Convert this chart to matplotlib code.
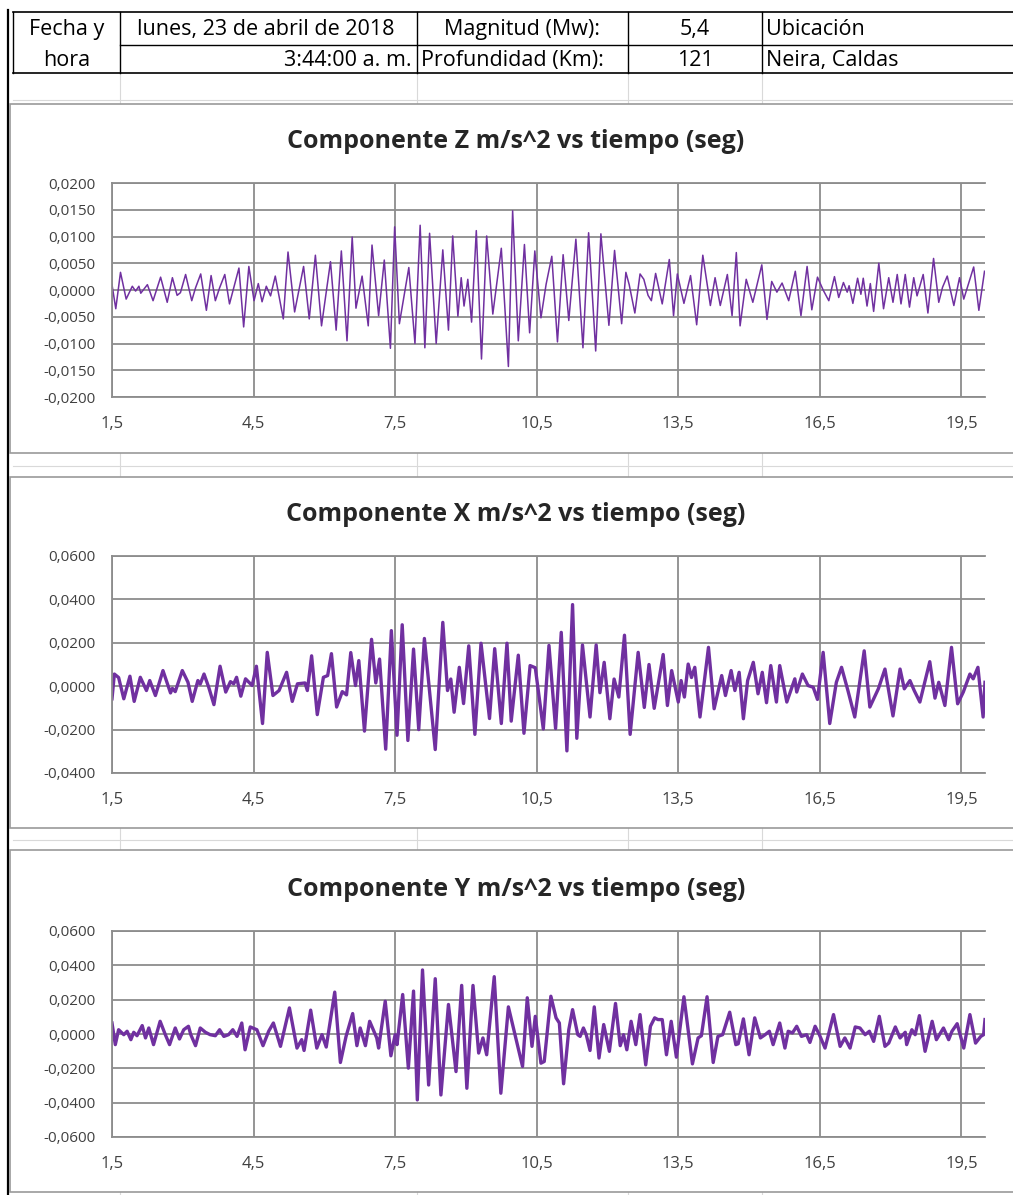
import matplotlib
matplotlib.use("Agg")
import matplotlib.pyplot as plt
from matplotlib.patches import Rectangle

z_t = [1.50, 1.58, 1.68, 1.80, 1.93, 2.00, 2.07, 2.11, 2.25, 2.37, 2.53, 2.67, 2.78, 2.88,
       2.95, 3.06, 3.19, 3.27, 3.38, 3.50, 3.60, 3.69, 3.78, 3.89, 3.99, 4.19, 4.29, 4.40,
       4.51, 4.60, 4.68, 4.77, 4.86, 4.96, 5.13, 5.23, 5.37, 5.56, 5.68, 5.81, 5.94, 6.13,
       6.25, 6.36, 6.48, 6.59, 6.67, 6.80, 6.93, 7.01, 7.15, 7.27, 7.40, 7.49, 7.59, 7.79,
       7.92, 8.03, 8.13, 8.23, 8.37, 8.51, 8.63, 8.72, 8.83, 8.90, 8.96, 9.04, 9.12, 9.22,
       9.33, 9.44, 9.57, 9.75, 9.90, 9.99, 10.11, 10.24, 10.35, 10.46, 10.59, 10.70, 10.82,
       10.94, 11.06, 11.18, 11.33, 11.48, 11.60, 11.75, 11.86, 12.03, 12.15, 12.30, 12.39,
       12.46, 12.58, 12.69, 12.77, 12.86, 12.93, 13.02, 13.16, 13.31, 13.40, 13.48, 13.62,
       13.76, 13.89, 14.02, 14.18, 14.28, 14.39, 14.54, 14.64, 14.73, 14.81, 14.94, 15.08,
       15.27, 15.38, 15.48, 15.59, 15.70, 15.84, 15.98, 16.10, 16.23, 16.33, 16.45, 16.57,
       16.69, 16.81, 16.90, 17.00, 17.08, 17.12, 17.20, 17.30, 17.37, 17.42, 17.50, 17.57,
       17.64, 17.75, 17.85, 17.96, 18.05, 18.14, 18.22, 18.31, 18.40, 18.49, 18.56, 18.69,
       18.79, 18.91, 19.02, 19.10, 19.20, 19.34, 19.46, 19.55, 19.76, 19.87, 19.99]
z_v = [0.0010, -0.0035, 0.0033, -0.0017, 0.0007, -0.0002, 0.0007, -0.0006, 0.0010, -0.0020,
       0.0024, -0.0023, 0.0023, -0.0010, -0.0005, 0.0029, -0.0020, 0.0004, 0.0030, -0.0038,
       0.0027, -0.0020, 0.0004, 0.0029, -0.0026, 0.0041, -0.0069, 0.0044, -0.0020, 0.0012,
       -0.0022, 0.0007, -0.0011, 0.0026, -0.0054, 0.0071, -0.0041, 0.0044, -0.0054, 0.0065,
       -0.0067, 0.0053, -0.0075, 0.0073, -0.0095, 0.0099, -0.0034, 0.0026, -0.0067, 0.0084,
       -0.0048, 0.0056, -0.0109, 0.0118, -0.0063, 0.0042, -0.0100, 0.0121, -0.0108, 0.0106,
       -0.0100, 0.0075, -0.0075, 0.0101, -0.0049, 0.0023, -0.0030, 0.0020, -0.0060, 0.0111,
       -0.0129, 0.0101, -0.0045, 0.0078, -0.0143, 0.0148, -0.0095, 0.0085, -0.0080, 0.0073,
       -0.0052, 0.0011, 0.0063, -0.0097, 0.0066, -0.0057, 0.0095, -0.0108, 0.0107, -0.0114,
       0.0105, -0.0066, 0.0074, -0.0063, 0.0033, 0.0010, -0.0043, 0.0030, 0.0020, -0.0010,
       -0.0020, 0.0031, -0.0026, 0.0057, -0.0048, 0.0030, -0.0025, 0.0027, -0.0065, 0.0065,
       -0.0029, 0.0023, -0.0029, 0.0029, -0.0048, 0.0070, -0.0067, 0.0020, -0.0023, 0.0047,
       -0.0055, 0.0016, -0.0004, 0.0013, -0.0020, 0.0035, -0.0048, 0.0044, -0.0037, 0.0024,
       0.0000, -0.0020, 0.0025, -0.0014, 0.0014, -0.0004, 0.0008, -0.0025, 0.0022, -0.0008,
       0.0022, -0.0030, 0.0012, -0.0040, 0.0050, -0.0035, 0.0023, -0.0023, 0.0029, -0.0026,
       0.0029, -0.0032, 0.0023, -0.0011, 0.0029, -0.0043, 0.0059, -0.0023, 0.0005, 0.0026,
       -0.0029, 0.0023, -0.0017, 0.0043, -0.0038, 0.0035]

# Componente X (horizontal E-W)
x_t = [1.50, 1.55, 1.64, 1.75, 1.88, 1.97, 2.10, 2.23, 2.30, 2.42, 2.58, 2.74, 2.78, 2.84,
       2.99, 3.11, 3.20, 3.32, 3.37, 3.45, 3.55, 3.66, 3.79, 3.91, 4.01, 4.08, 4.14, 4.23,
       4.33, 4.47, 4.56, 4.69, 4.79, 4.91, 5.04, 5.20, 5.32, 5.43, 5.59, 5.64, 5.73, 5.85,
       5.98, 6.07, 6.15, 6.26, 6.38, 6.47, 6.56, 6.66, 6.73, 6.85, 7.00, 7.09, 7.17, 7.30,
       7.42, 7.54, 7.65, 7.77, 7.89, 8.00, 8.12, 8.35, 8.51, 8.61, 8.68, 8.75, 8.86, 8.95,
       9.06, 9.19, 9.32, 9.50, 9.61, 9.75, 9.87, 9.96, 10.11, 10.23, 10.36, 10.47, 10.64,
       10.76, 10.90, 11.02, 11.14, 11.26, 11.35, 11.47, 11.63, 11.76, 11.84, 11.93, 12.05,
       12.14, 12.24, 12.36, 12.48, 12.65, 12.78, 12.88, 12.99, 13.18, 13.27, 13.36, 13.50,
       13.56, 13.63, 13.71, 13.78, 13.85, 13.96, 14.14, 14.26, 14.42, 14.50, 14.62, 14.70,
       14.79, 14.88, 14.97, 15.09, 15.19, 15.28, 15.37, 15.46, 15.58, 15.65, 15.80, 15.97,
       16.01, 16.13, 16.25, 16.36, 16.45, 16.57, 16.71, 16.85, 16.96, 17.10, 17.24, 17.44,
       17.56, 17.74, 17.88, 18.05, 18.20, 18.29, 18.41, 18.50, 18.62, 18.83, 18.94, 19.02,
       19.15, 19.29, 19.42, 19.54, 19.68, 19.75, 19.85, 19.96, 20.00]
x_v = [-0.0058, 0.0056, 0.0040, -0.0058, 0.0046, -0.0070, 0.0041, -0.0020, 0.0026, -0.0043,
       0.0072, -0.0031, -0.0010, -0.0025, 0.0072, 0.0018, -0.0070, 0.0026, 0.0010, 0.0056,
       -0.0005, -0.0085, 0.0092, -0.0027, 0.0021, 0.0011, 0.0041, -0.0046, 0.0034, 0.0003,
       0.0092, -0.0172, 0.0156, -0.0043, -0.0020, 0.0064, -0.0070, 0.0011, 0.0015, -0.0020,
       0.0140, -0.0131, 0.0041, 0.0049, 0.0150, -0.0096, -0.0025, -0.0040, 0.0155, 0.0003,
       0.0118, -0.0207, 0.0216, 0.0015, 0.0125, -0.0290, 0.0256, -0.0226, 0.0283, -0.0250,
       0.0171, -0.0200, 0.0220, -0.0292, 0.0294, -0.0020, 0.0033, -0.0120, 0.0087, -0.0080,
       0.0186, -0.0222, 0.0198, -0.0149, 0.0173, -0.0172, 0.0198, -0.0161, 0.0143, -0.0217,
       0.0095, 0.0085, -0.0197, 0.0188, -0.0195, 0.0248, -0.0298, 0.0376, -0.0240, 0.0190,
       -0.0142, 0.0190, -0.0030, 0.0110, -0.0150, 0.0033, -0.0050, 0.0235, -0.0222, 0.0156,
       -0.0098, 0.0100, -0.0102, 0.0146, -0.0089, 0.0072, -0.0073, 0.0026, -0.0050, 0.0102,
       0.0040, 0.0087, -0.0142, 0.0179, -0.0104, 0.0049, -0.0043, 0.0072, -0.0020, 0.0064,
       -0.0150, 0.0026, 0.0110, -0.0035, 0.0064, -0.0076, 0.0095, -0.0073, 0.0095, -0.0073,
       0.0034, -0.0027, 0.0056, 0.0003, -0.0005, -0.0061, 0.0156, -0.0172, 0.0018, 0.0087,
       -0.0024, -0.0142, 0.0163, -0.0096, -0.0012, 0.0079, -0.0137, 0.0079, -0.0012, 0.0026,
       -0.0020, -0.0073, 0.0113, -0.0055, 0.0018, -0.0089, 0.0179, -0.0081, -0.0027, 0.0056,
       0.0034, 0.0087, -0.0142, 0.0018]

# Componente Y (horizontal N-S)
y_t = [1.50, 1.57, 1.64, 1.75, 1.82, 1.90, 1.96, 2.03, 2.14, 2.21, 2.28, 2.38, 2.52, 2.63,
       2.72, 2.84, 2.93, 3.02, 3.12, 3.17, 3.27, 3.37, 3.48, 3.58, 3.69, 3.78, 3.87, 3.97,
       4.06, 4.15, 4.25, 4.32, 4.43, 4.57, 4.70, 4.82, 4.92, 5.07, 5.26, 5.42, 5.52, 5.57,
       5.71, 5.84, 5.95, 6.04, 6.22, 6.34, 6.46, 6.60, 6.69, 6.76, 6.87, 6.96, 7.11, 7.15,
       7.29, 7.41, 7.50, 7.54, 7.66, 7.78, 7.89, 7.97, 8.08, 8.21, 8.35, 8.47, 8.63, 8.79,
       8.91, 9.02, 9.15, 9.27, 9.36, 9.44, 9.60, 9.74, 9.90, 10.04, 10.20, 10.30, 10.40,
       10.47, 10.59, 10.66, 10.80, 10.91, 10.98, 11.07, 11.18, 11.26, 11.37, 11.42, 11.49,
       11.55, 11.63, 11.72, 11.82, 11.92, 12.04, 12.17, 12.27, 12.34, 12.41, 12.50, 12.60,
       12.69, 12.81, 12.91, 13.00, 13.07, 13.16, 13.25, 13.35, 13.46, 13.62, 13.80, 13.92,
       13.99, 14.11, 14.24, 14.34, 14.44, 14.59, 14.72, 14.77, 14.88, 15.00, 15.12, 15.24,
       15.34, 15.43, 15.51, 15.65, 15.76, 15.83, 15.92, 16.01, 16.11, 16.22, 16.29, 16.40,
       16.49, 16.61, 16.79, 16.93, 17.03, 17.14, 17.25, 17.35, 17.46, 17.55, 17.64, 17.76,
       17.88, 17.96, 18.10, 18.20, 18.31, 18.34, 18.45, 18.52, 18.61, 18.73, 18.88, 18.97,
       19.12, 19.23, 19.30, 19.41, 19.55, 19.68, 19.80, 19.91, 19.97, 20.00]
y_v = [0.0064, -0.0062, 0.0025, -0.0004, 0.0016, -0.0033, 0.0010, -0.0010, 0.0049, -0.0023,
       0.0035, -0.0062, 0.0074, -0.0004, -0.0062, 0.0035, -0.0029, 0.0025, 0.0045, -0.0004,
       -0.0068, 0.0035, 0.0010, -0.0004, -0.0010, 0.0025, -0.0014, -0.0004, 0.0025, -0.0014,
       0.0064, -0.0092, 0.0041, 0.0025, -0.0068, 0.0016, 0.0064, -0.0072, 0.0152, -0.0082,
       -0.0033, -0.0096, 0.0139, -0.0082, -0.0004, -0.0076, 0.0244, -0.0166, -0.0014, 0.0119,
       -0.0068, 0.0035, -0.0068, 0.0074, -0.0023, -0.0082, 0.0191, -0.0127, -0.0004, -0.0062,
       0.0230, -0.0199, 0.0250, -0.0384, 0.0373, -0.0297, 0.0322, -0.0355, 0.0172, -0.0219,
       0.0283, -0.0316, 0.0283, -0.0111, -0.0023, -0.0121, 0.0334, -0.0345, 0.0158, -0.0004,
       -0.0189, 0.0211, -0.0072, 0.0103, -0.0170, -0.0160, 0.0220, 0.0094, 0.0064, -0.0290,
       0.0025, 0.0142, -0.0004, -0.0014, 0.0035, -0.0004, -0.0096, 0.0158, -0.0140, 0.0055,
       -0.0101, 0.0178, -0.0068, -0.0004, -0.0092, 0.0074, -0.0062, 0.0113, -0.0180, 0.0045,
       0.0094, 0.0084, 0.0084, -0.0121, 0.0074, -0.0135, 0.0217, -0.0174, -0.0023, -0.0010,
       0.0217, -0.0166, -0.0014, -0.0004, 0.0127, -0.0062, -0.0057, 0.0088, -0.0121, 0.0094,
       -0.0023, -0.0004, 0.0016, -0.0062, 0.0064, -0.0082, 0.0016, 0.0006, 0.0045, -0.0014,
       -0.0004, -0.0049, 0.0045, -0.0004, -0.0082, 0.0113, -0.0072, -0.0023, -0.0082, 0.0041,
       0.0035, -0.0004, 0.0016, -0.0043, 0.0103, -0.0072, -0.0053, 0.0041, -0.0023, 0.0010,
       -0.0062, 0.0025, -0.0004, 0.0107, -0.0101, 0.0074, -0.0033, 0.0035, -0.0033, 0.0016,
       0.0060, -0.0082, 0.0113, -0.0053, -0.0014, -0.0004, 0.0084]

x_ticks = [1.5, 4.5, 7.5, 10.5, 13.5, 16.5, 19.5]

W, H = 1013, 1195
PURPLE = "#7030A0"
GRID = "#8c8c8c"
CELL = "#d9d9d9"
FONT = "Open Sans"

fig = plt.figure(figsize=(W / 100, H / 100), dpi=100)

# hoja de calculo de fondo, en coordenadas de pixel
bg = fig.add_axes([0, 0, 1, 1])
bg.set_xlim(0, W)
bg.set_ylim(H, 0)
bg.axis("off")

cols = [120, 417, 628, 762]
for cx in cols:
    bg.plot([cx, cx], [73, H], color=CELL, lw=0.8)
for ry in [100, 466, 840]:
    bg.plot([13, W], [ry, ry], color=CELL, lw=0.8)

# tabla de encabezado
bg.plot([8, 8], [10, H], color="black", lw=1.6)
bg.plot([13, W], [12, 12], color="black", lw=1.2)
bg.plot([13, W], [73, 73], color="black", lw=1.2)
bg.plot([120, W], [45, 45], color="black", lw=1.0)
for cx in [13] + cols:
    bg.plot([cx, cx], [12, 73], color="black", lw=1.0)

cell_font = dict(fontsize=15.5, family=FONT, color="black", va="center")
bg.text(67, 29, "Fecha y", ha="center", **cell_font)
bg.text(67, 60, "hora", ha="center", **cell_font)
bg.text(266, 29, "lunes, 23 de abril de 2018", ha="center", **cell_font)
bg.text(412, 60, "3:44:00 a. m.", ha="right", **cell_font)
bg.text(522, 29, "Magnitud (Mw):", ha="center", **cell_font)
bg.text(421, 60, "Profundidad (Km):", ha="left", **cell_font)
bg.text(695, 29, "5,4", ha="center", **cell_font)
bg.text(695, 60, "121", ha="center", **cell_font)
bg.text(766, 29, "Ubicación", ha="left", **cell_font)
bg.text(766, 60, "Neira, Caldas", ha="left", **cell_font)


def px_axes(left, top, right, bottom):
    return fig.add_axes([left / W, 1 - bottom / H, (right - left) / W, (bottom - top) / H])


def comma(v, nd):
    return f"{v:.{nd}f}".replace(".", ",")


charts = [
    # caja, area de trazado, titulo, datos, limites y, paso, grosor
    ((10, 104, 1020, 453), (112, 183, 985, 397), "Componente Z m/s^2 vs tiempo (seg)",
     z_t, z_v, (-0.02, 0.02), 0.005, 1.1),
    ((10, 477, 1020, 828), (112, 556, 985, 773), "Componente X m/s^2 vs tiempo (seg)",
     x_t, x_v, (-0.04, 0.06), 0.02, 2.4),
    ((10, 850, 1020, 1192), (112, 931, 985, 1137), "Componente Y m/s^2 vs tiempo (seg)",
     y_t, y_v, (-0.06, 0.06), 0.02, 2.4),
]

for box, area, title, t, v, ylim, step, lw in charts:
    bx0, by0, bx1, by1 = box
    bg.add_patch(Rectangle((bx0, by0), bx1 - bx0, by1 - by0, facecolor="white",
                           edgecolor="#9a9a9a", lw=1.2, zorder=3))
    bg.text(516, area[1] - 42, title, ha="center", va="center",
            fontsize=18, fontweight="bold", family=FONT, color="#262626", zorder=4)

    ax = px_axes(*area)
    ax.plot(t, v, color=PURPLE, lw=lw, solid_joinstyle="round")
    ax.set_xlim(1.5, 20.0)
    ax.set_ylim(*ylim)
    n = int(round((ylim[1] - ylim[0]) / step))
    yt = [ylim[0] + i * step for i in range(n + 1)]
    ax.set_yticks(yt)
    ax.set_yticklabels([comma(y, 4) for y in yt])
    ax.set_xticks(x_ticks)
    ax.set_xticklabels([comma(x, 1) for x in x_ticks])
    ax.grid(True, color=GRID, lw=1.3)
    ax.set_axisbelow(True)
    for side in ["left", "bottom", "top"]:
        ax.spines[side].set_color(GRID)
        ax.spines[side].set_linewidth(1.3)
    ax.spines["right"].set_visible(False)
    ax.tick_params(length=0, colors="#404040")
    ax.tick_params(axis="y", pad=12, labelsize=11)
    ax.tick_params(axis="x", pad=14, labelsize=12)
    for lbl in ax.get_xticklabels() + ax.get_yticklabels():
        lbl.set_family(FONT)

fig.savefig("out.png", dpi=100)
